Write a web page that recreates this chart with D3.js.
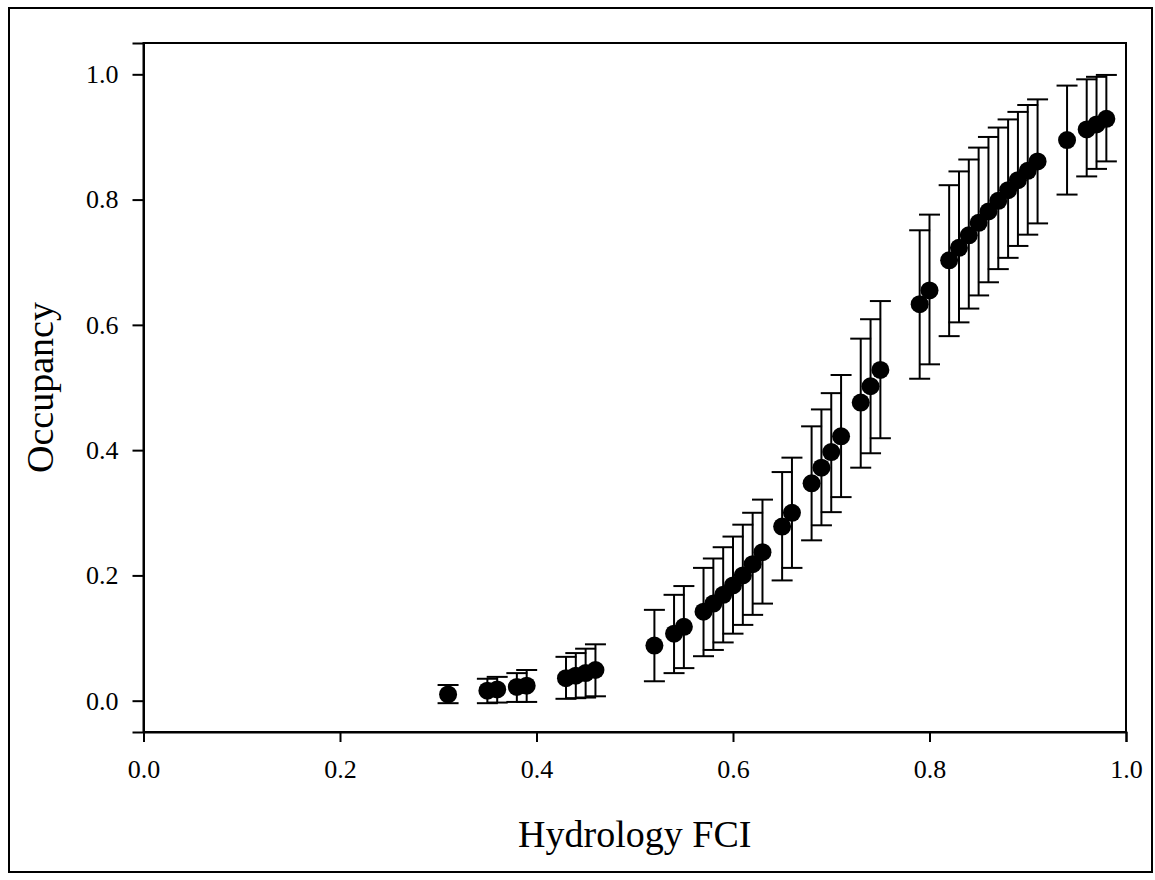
<!DOCTYPE html>
<html>
<head>
<meta charset="utf-8">
<script src="https://cdn.jsdelivr.net/npm/d3@7"></script>
<style>
  html, body { margin: 0; padding: 0; background: #fff; }
  svg { display: block; }
</style>
</head>
<body>
<svg id="chart" width="1155" height="880"></svg>
<script>
// ---- data ----
const fci = [0.31,0.35,0.36,0.38,0.39,0.43,0.44,0.45,0.46,0.52,0.54,0.55,0.57,0.58,0.59,0.60,0.61,0.62,0.63,0.65,0.66,0.68,0.69,0.70,0.71,0.73,0.74,0.75,0.79,0.80,0.82,0.83,0.84,0.85,0.86,0.87,0.88,0.89,0.90,0.91,0.94,0.96,0.97,0.98];
const occupancy = [0.010,0.016,0.018,0.022,0.024,0.036,0.040,0.044,0.049,0.088,0.107,0.118,0.142,0.155,0.169,0.184,0.200,0.218,0.237,0.278,0.300,0.347,0.372,0.397,0.422,0.476,0.502,0.528,0.633,0.655,0.703,0.723,0.743,0.763,0.781,0.798,0.815,0.831,0.846,0.861,0.895,0.912,0.920,0.929];
const lower = [-0.004,-0.004,-0.003,-0.002,-0.002,0.003,0.004,0.005,0.007,0.031,0.044,0.052,0.071,0.081,0.093,0.107,0.121,0.137,0.155,0.192,0.212,0.256,0.280,0.301,0.325,0.372,0.395,0.419,0.514,0.537,0.582,0.604,0.626,0.647,0.668,0.689,0.707,0.726,0.744,0.762,0.808,0.837,0.849,0.861];
const upper = [0.025,0.035,0.038,0.044,0.049,0.070,0.076,0.083,0.090,0.145,0.169,0.183,0.212,0.227,0.245,0.262,0.281,0.300,0.321,0.365,0.388,0.438,0.465,0.491,0.520,0.578,0.609,0.638,0.751,0.776,0.823,0.845,0.864,0.883,0.900,0.915,0.928,0.940,0.951,0.960,0.982,0.992,0.996,0.999];
const xTicks = [0.0,0.2,0.4,0.6,0.8,1.0];
const yTicks = [0.0,0.2,0.4,0.6,0.8,1.0];
const xLabel = "Hydrology FCI";
const yLabel = "Occupancy";

const points = fci.map((x,i)=>({x, y: occupancy[i], lo: lower[i], hi: upper[i]}));

// ---- layout ----
const svg = d3.select("#chart");
const L = 143.5, R = 1126, T = 43, B = 732;
const font = "'Liberation Serif','Times New Roman',serif";

svg.append("rect").attr("x",0).attr("y",0).attr("width",1155).attr("height",880).attr("fill","#fff");
// outer border
svg.append("rect").attr("x",9).attr("y",8).attr("width",1143).attr("height",864)
  .attr("fill","none").attr("stroke","#000").attr("stroke-width",2);

const x = d3.scaleLinear().domain([0,1]).range([L,R]);
const y = d3.scaleLinear().domain([-0.05,1.05]).range([B,T]);

// frame
svg.append("rect").attr("x",L).attr("y",T).attr("width",R-L).attr("height",B-T)
  .attr("fill","none").attr("stroke","#000").attr("stroke-width",2);

const xAxis = svg.append("g").attr("transform",`translate(0,${B})`)
  .call(d3.axisBottom(x).tickValues(xTicks).tickFormat(d3.format(".1f")).tickSize(10).tickPadding(18));
const yAxis = svg.append("g").attr("transform",`translate(${L},0)`)
  .call(d3.axisLeft(y).tickValues(yTicks).tickFormat(d3.format(".1f")).tickSize(11).tickPadding(14));
[xAxis,yAxis].forEach(g=>{
  g.select(".domain").attr("stroke","#000").attr("stroke-width",2);
  g.selectAll(".tick line").attr("stroke","#000").attr("stroke-width",2);
  g.selectAll(".tick text").attr("fill","#000").style("font-family",font).style("font-size","26px");
});

// error bars
const cap = 10.5;
const eb = svg.append("g").attr("stroke","#000").attr("stroke-width",2);
eb.selectAll("line.v").data(points).join("line").attr("class","v")
  .attr("x1",d=>x(d.x)).attr("x2",d=>x(d.x)).attr("y1",d=>y(d.lo)).attr("y2",d=>y(d.hi));
eb.selectAll("line.t").data(points).join("line").attr("class","t")
  .attr("x1",d=>x(d.x)-cap).attr("x2",d=>x(d.x)+cap).attr("y1",d=>y(d.hi)).attr("y2",d=>y(d.hi));
eb.selectAll("line.b").data(points).join("line").attr("class","b")
  .attr("x1",d=>x(d.x)-cap).attr("x2",d=>x(d.x)+cap).attr("y1",d=>y(d.lo)).attr("y2",d=>y(d.lo));

// points
svg.append("g").selectAll("circle").data(points).join("circle")
  .attr("cx",d=>x(d.x)).attr("cy",d=>y(d.y)).attr("r",9).attr("fill","#000");

// axis titles
svg.append("text").attr("x",(L+R)/2).attr("y",847).attr("text-anchor","middle")
  .style("font-family",font).style("font-size","38px").attr("fill","#000").text(xLabel);
svg.append("text").attr("transform",`translate(53,${(T+B)/2}) rotate(-90)`).attr("text-anchor","middle")
  .style("font-family",font).style("font-size","38px").attr("fill","#000").text(yLabel);
</script>
</body>
</html>
